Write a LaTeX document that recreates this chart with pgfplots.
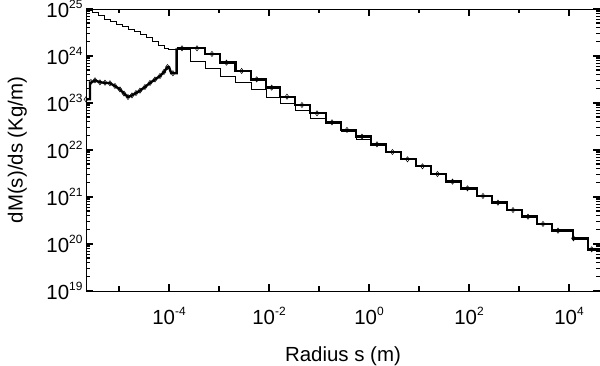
\documentclass[border=0pt]{standalone}
\usepackage{pgfplots}
\pgfplotsset{compat=1.18}
\usepackage{fontspec}
\setmainfont{Liberation Sans}

\newcommand{\tl}[1]{10\raisebox{9bp}{\fontsize{12}{12}\selectfont #1}}

\begin{document}
\begin{tikzpicture}
\begin{axis}[
    scale only axis,
    width=514bp, height=282bp,
    xmode=log, ymode=log,
    xmin=2.19e-6, xmax=4.17e4,
    ymin=1e19, ymax=1e25,
    axis line style={line width=0.9bp},
    xmajorticks=true, ymajorticks=true,
    xminorticks=true, yminorticks=true,
    major tick length=7bp,
    minor tick length=4.5bp,
    every tick/.append style={black, line width=1.3bp},
    xtick={1e-4,1e-2,1,1e2,1e4},
    xticklabels={\tl{-4},\tl{-2},\tl{0},\tl{2},\tl{4}},
    minor xtick={1e-5,1e-3,1e-1,1e1,1e3},
    ytick={1e19,1e20,1e21,1e22,1e23,1e24,1e25},
    yticklabels={\tl{19},\tl{20},\tl{21},\tl{22},\tl{23},\tl{24},\tl{25}},
    ticklabel style={font=\fontsize{20.5}{24}\selectfont},
    xticklabel style={yshift=-13bp},
    xlabel={Radius s (m)},
    ylabel={dM(s)/ds (Kg/m)},
    every axis x label/.style={at={(axis description cs:0.5,-0.2518)}, anchor=base,
        font=\fontsize{20.5}{24}\selectfont},
    every axis y label/.style={at={(axis description cs:-0.1233,0.5)}, rotate=90, anchor=base,
        font=\fontsize{20.5}{24}\selectfont},
]
% thin line: upper curve, then the lower histogram
\addplot[const plot, black, line width=0.8bp] coordinates {
    (2.19e-6,9.52e24) (2.88e-6,8.43e24) (3.80e-6,7.27e24) (5.01e-6,6.13e24)
    (6.61e-6,5.40e24) (8.71e-6,4.75e24) (1.148e-5,4.18e24) (1.514e-5,3.70e24)
    (1.995e-5,3.29e24) (2.63e-5,2.85e24) (3.47e-5,2.44e24) (4.57e-5,2.07e24)
    (6.03e-5,1.72e24) (7.94e-5,1.48e24) (9.55e-5,1.41e24) (2.63e-4,7.57e23)
    (5.25e-4,5.47e23) (1.047e-3,3.75e23) (2.158e-3,2.70e23) (4.365e-3,1.96e23)
    (8.71e-3,1.32e23) (1.66e-2,9.86e22) (3.31e-2,7.10e22) (6.61e-2,4.72e22)
    (0.138,3.66e22) (0.275,2.45e22) (0.55,1.69e22) (1.096,1.32e22) (2.19,1.32e22)
};

% thick line: small-radius part
\addplot[sharp plot, black, line width=2.4bp] coordinates {
    (2.19e-6,1.20e23) (2.63e-6,1.20e23) (2.63e-6,2.63e23) (3.31e-6,3.04e23)
    (4.17e-6,2.75e23) (5.25e-6,2.70e23) (6.61e-6,2.63e23) (8.32e-6,2.30e23)
    (1.047e-5,1.94e23) (1.259e-5,1.59e23) (1.514e-5,1.34e23) (1.82e-5,1.45e23)
    (2.19e-5,1.63e23) (2.63e-5,1.83e23) (3.31e-5,2.19e23) (4.17e-5,2.67e23)
    (5.25e-5,3.16e23) (6.61e-5,3.75e23) (7.94e-5,4.57e23) (9.33e-5,5.83e23)
    (1.0e-4,5.83e23) (1.11e-4,4.29e23) (1.426e-4,4.29e23) (1.426e-4,1.459e24)
};

% thick line: histogram
\addplot[const plot, black, line width=2.4bp] coordinates {
    (1.426e-4,1.459e24) (5.25e-4,1.104e24) (1.047e-3,7.20e23) (2.158e-3,4.80e23)
    (4.365e-3,3.19e23) (8.71e-3,2.12e23) (1.66e-2,1.36e23) (3.31e-2,9.06e22)
    (6.61e-2,6.04e22) (0.138,3.88e22) (0.275,2.67e22) (0.55,1.92e22)
    (1.096,1.32e22) (2.19,9.06e21) (4.37,6.34e21) (8.71,4.50e21)
    (17.4,3.08e21) (34.7,2.12e21) (69.2,1.53e21) (144.5,1.05e21)
    (288,7.57e20) (575,5.28e20) (1148,3.81e20) (2291,2.67e20)
    (4571,1.92e20) (12023,1.32e20) (23988,7.71e19) (41700,7.71e19)
};

% diamonds
\addplot[only marks, mark=diamond, mark size=2.6bp, black, line width=0.5bp,
         mark options={fill=white}] coordinates {
    (2.19e-6,1.20e23) (2.75e-6,2.80e23) (3.31e-6,3.04e23) (4.17e-6,2.75e23)
    (5.25e-6,2.70e23) (6.61e-6,2.63e23) (8.32e-6,2.30e23) (1.047e-5,1.94e23)
    (1.259e-5,1.59e23) (1.514e-5,1.34e23) (1.82e-5,1.45e23) (2.19e-5,1.63e23)
    (2.63e-5,1.83e23) (3.31e-5,2.19e23) (4.17e-5,2.67e23) (5.25e-5,3.16e23)
    (6.61e-5,3.75e23) (7.94e-5,4.57e23) (9.33e-5,5.83e23) (1.20e-4,4.29e23)
    (1.82e-4,1.459e24) (3.63e-4,1.459e24) (7.24e-4,1.104e24) (1.413e-3,7.20e23)
    (2.84e-3,4.80e23) (5.68e-3,3.19e23) (1.132e-2,2.12e23) (2.29e-2,1.36e23)
    (4.57e-2,9.06e22) (9.12e-2,6.04e22) (0.182,3.88e22) (0.363,2.67e22)
    (0.724,1.92e22) (1.445,1.32e22) (2.95,9.06e21) (5.89,6.34e21)
    (11.75,4.50e21) (23.4,3.08e21) (46.8,2.12e21) (93.3,1.53e21)
    (190.5,1.05e21) (380,7.57e20) (759,5.28e20) (1514,3.81e20)
    (3020,2.67e20) (6026,1.92e20) (12300,1.32e20) (28445,7.71e19)
};
\end{axis}
\pgfresetboundingbox
\useasboundingbox ([xshift=-86bp,yshift=-75bp]current axis.south west)
    rectangle ([yshift=9bp]current axis.north east);
\end{tikzpicture}
\end{document}
